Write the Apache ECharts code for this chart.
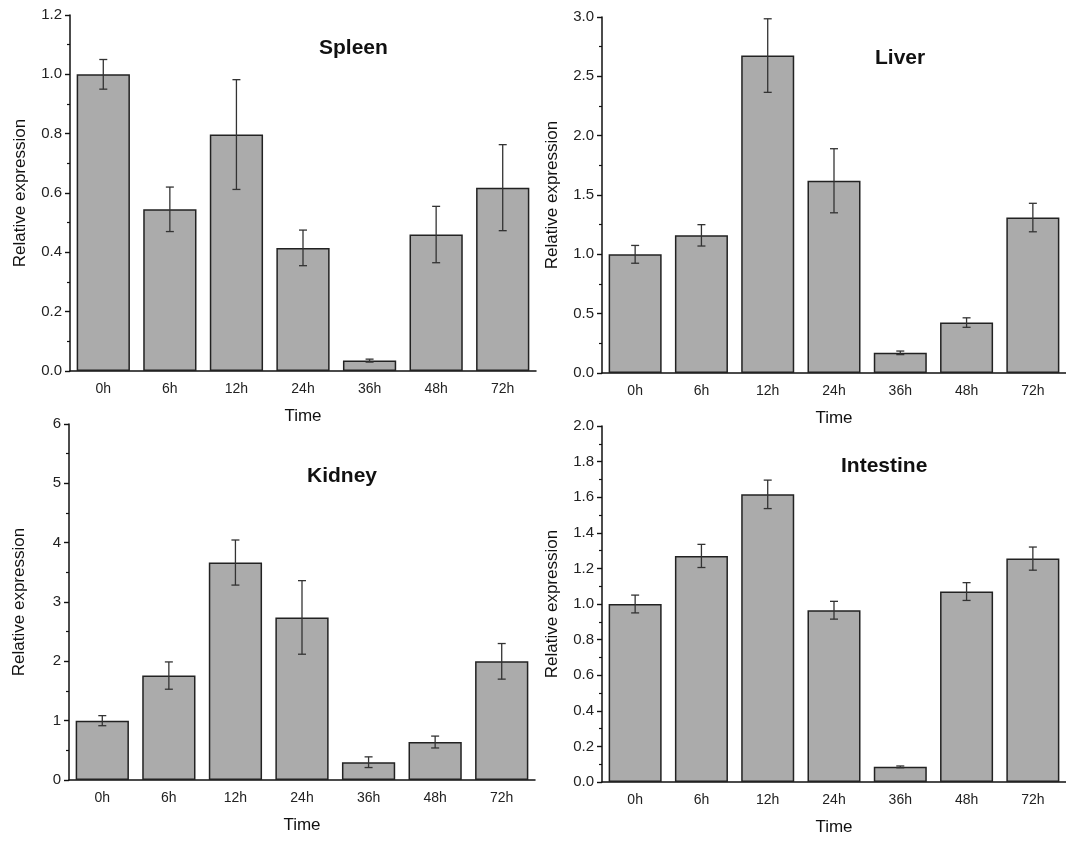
<!DOCTYPE html>
<html>
<head>
<meta charset="utf-8">
<script src="https://cdn.jsdelivr.net/npm/echarts@6/dist/echarts.min.js"></script>
<style>
html,body{margin:0;padding:0;background:#fff;}
#c{width:1066px;height:841px;}
</style>
</head>
<body>
<div id="c"></div>
<script>
const categories = ['0h','6h','12h','24h','36h','48h','72h'];

const spleenMean = [1.0, 0.545, 0.797, 0.415, 0.035, 0.46, 0.618];
const spleenErr  = [0.05, 0.075, 0.185, 0.06, 0.005, 0.095, 0.145];

const liverMean = [1.0, 1.16, 2.675, 1.62, 0.17, 0.425, 1.31];
const liverErr  = [0.075, 0.09, 0.31, 0.27, 0.015, 0.04, 0.12];

const kidneyMean = [1.0, 1.76, 3.665, 2.74, 0.3, 0.64, 2.0];
const kidneyErr  = [0.085, 0.23, 0.38, 0.62, 0.09, 0.1, 0.3];

const intestineMean = [1.0, 1.27, 1.616, 0.965, 0.085, 1.07, 1.255];
const intestineErr  = [0.05, 0.065, 0.08, 0.05, 0.005, 0.05, 0.065];

const panels = [
  {name:'Spleen', mean:spleenMean, err:spleenErr, max:1.2, interval:0.2, dec:1,
   grid:{left:70, top:15, width:466, height:356}, title:{left:314, top:33}},
  {name:'Liver', mean:liverMean, err:liverErr, max:3.0, interval:0.5, dec:1,
   grid:{left:602, top:17, width:465, height:356}, title:{left:870, top:43}},
  {name:'Kidney', mean:kidneyMean, err:kidneyErr, max:6, interval:1, dec:0,
   grid:{left:69, top:424, width:466, height:356}, title:{left:302, top:461}},
  {name:'Intestine', mean:intestineMean, err:intestineErr, max:2.0, interval:0.2, dec:1,
   grid:{left:602, top:426, width:465, height:356}, title:{left:836, top:451}}
];

const FONT = '"Liberation Sans", Arial, sans-serif';
const grid = [], xAxis = [], yAxis = [], series = [], title = [];

panels.forEach((p, k) => {
  grid.push(Object.assign({containLabel:false}, p.grid));
  title.push({text:p.name, left:p.title.left, top:p.title.top,
    textStyle:{fontFamily:FONT, fontSize:21, fontWeight:'bold', color:'#111'}});
  xAxis.push({type:'category', gridIndex:k, data:categories,
    name:'Time', nameLocation:'middle', nameGap:37,
    nameTextStyle:{fontFamily:FONT, fontSize:17, color:'#111'},
    axisLine:{lineStyle:{color:'#111', width:1.5}},
    axisTick:{alignWithLabel:true, length:5, lineStyle:{color:'#111', width:1.4}},
    axisLabel:{fontFamily:FONT, fontSize:14, color:'#222', margin:11}});
  xAxis.push({type:'category', gridIndex:k, data:categories, position:'bottom',
    axisLine:{show:false},
    axisTick:{alignWithLabel:false, length:3, lineStyle:{color:'#111', width:1.2}},
    axisLabel:{show:false}});
  yAxis.push({type:'value', gridIndex:k, min:0, max:p.max, interval:p.interval,
    name:'Relative expression', nameLocation:'middle', nameGap:41,
    nameTextStyle:{fontFamily:FONT, fontSize:17, color:'#111'},
    axisLine:{show:true, lineStyle:{color:'#111', width:1.5}},
    axisTick:{show:true, length:5, lineStyle:{color:'#111', width:1.4}},
    minorTick:{show:true, splitNumber:2, length:3, lineStyle:{color:'#111', width:1.2}},
    splitLine:{show:false},
    axisLabel:{fontFamily:FONT, fontSize:15, color:'#222', margin:8,
      formatter: v => v.toFixed(p.dec)}});
  series.push({type:'bar', xAxisIndex:2*k, yAxisIndex:k, data:p.mean,
    barCategoryGap:'20%',
    itemStyle:{color:'#ababab', borderColor:'#222', borderWidth:1.5},
    z:2});
  series.push({type:'custom', xAxisIndex:2*k, yAxisIndex:k,
    data:p.mean.map((m,i)=>[i, m - p.err[i], m + p.err[i]]),
    renderItem:(params, api) => {
      const lo = api.coord([api.value(0), api.value(1)]);
      const hi = api.coord([api.value(0), api.value(2)]);
      const x = hi[0], hw = 4;
      const st = {stroke:'#333', lineWidth:1.3};
      return {type:'group', children:[
        {type:'line', shape:{x1:x, y1:hi[1], x2:x, y2:lo[1]}, style:st},
        {type:'line', shape:{x1:x-hw, y1:hi[1], x2:x+hw, y2:hi[1]}, style:st},
        {type:'line', shape:{x1:x-hw, y1:lo[1], x2:x+hw, y2:lo[1]}, style:st}
      ]};
    },
    z:5});
});

const chart = echarts.init(document.getElementById('c'), null, {renderer:'canvas'});
chart.setOption({backgroundColor:'#fff', animation:false, title, grid, xAxis, yAxis, series});
</script>
</body>
</html>
